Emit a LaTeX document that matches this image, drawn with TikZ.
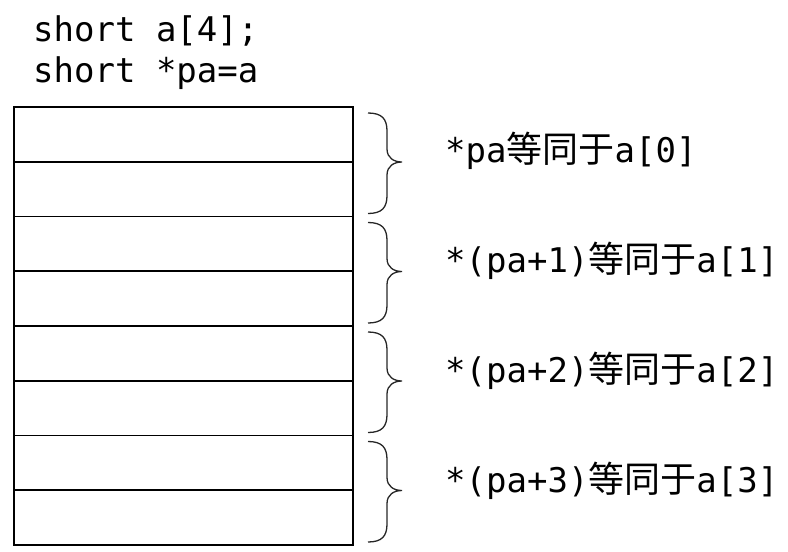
\documentclass[tikz,border=0pt]{standalone}
\usepackage{fontspec}
\newfontfamily\codefont{DejaVu Sans Mono}
\newfontfamily\cjk{Noto Sans CJK SC}
\begin{document}
\begin{tikzpicture}[x=1pt,y=-1pt,
  cell/.style={draw=black,line width=1.8pt,minimum width=339pt,minimum height=54.75pt,inner sep=0pt,outer sep=0pt},
  codetxt/.style={anchor=base west,inner sep=0pt,font=\codefont\fontsize{34}{40}\selectfont},
  lbl/.style={anchor=base west,inner sep=0pt,font=\codefont\fontsize{34}{40}\selectfont},
  bracestyle/.style={draw=black!85,line width=1.3pt}]
\useasboundingbox (0,0) rectangle (788,552);
\node[codetxt] (c1) at (33,41) {short a[4];};
\node[codetxt] (c2) at (33,82) {short *pa=a};
\foreach \i in {0,...,7}{
  \node[cell] (r\i) at (183.5,{107+54.75*\i+27.375}) {};
}
\foreach \k in {0,...,3}{
  \pgfmathsetmacro{\ya}{107+109.5*\k+6}
  \pgfmathsetmacro{\yb}{107+109.5*(\k+1)-3}
  \pgfmathsetmacro{\ym}{107+109.5*\k+55}
  \coordinate (bt\k) at (368,\ya);
  \coordinate (bb\k) at (368,\yb);
  \coordinate (tip\k) at (402,\ym);
  \draw[bracestyle] (bt\k) .. controls (382,\ya) and (387,\ya+6) .. (387,\ya+18)
    -- (387,\ym-13) .. controls (387,\ym-4) and (394,\ym) .. (tip\k)
    .. controls (394,\ym) and (387,\ym+4) .. (387,\ym+13)
    -- (387,\yb-18) .. controls (387,\yb-6) and (382,\yb) .. (bb\k);
}
\node[lbl] (l0) at (445,162) {*pa{\cjk\fontsize{36}{40}\selectfont 等同于}a[0]};
\node[lbl] (l1) at (445,272) {*(pa+1){\cjk\fontsize{36}{40}\selectfont 等同于}a[1]};
\node[lbl] (l2) at (445,382) {*(pa+2){\cjk\fontsize{36}{40}\selectfont 等同于}a[2]};
\node[lbl] (l3) at (445,492) {*(pa+3){\cjk\fontsize{36}{40}\selectfont 等同于}a[3]};
\end{tikzpicture}
\end{document}
